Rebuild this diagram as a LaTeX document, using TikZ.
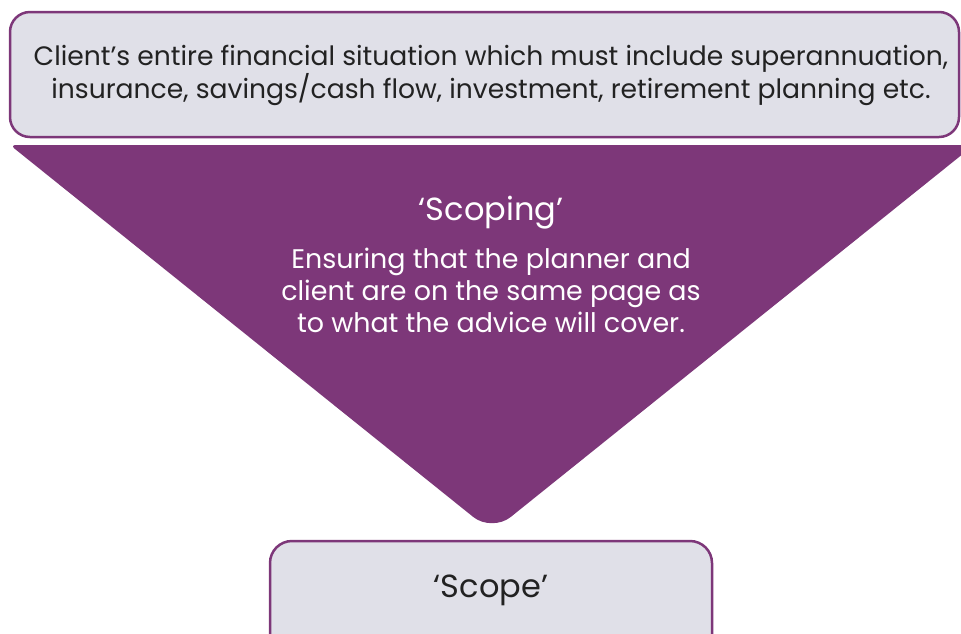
\documentclass[tikz,border=0pt]{standalone}
\usepackage{fontspec}
\setmainfont{Poppins}
\definecolor{plum}{HTML}{7D3779}
\definecolor{mist}{HTML}{E0E0E8}
\definecolor{ink}{HTML}{222222}
\tikzset{
  infobox/.style={draw=plum,line width=2.5pt,fill=mist,rounded corners=20pt},
  boxtext/.style={text=ink,align=center,font=\fontsize{26.6}{33}\selectfont}
}
\begin{document}
\begin{tikzpicture}[x=1pt,y=-1pt]
\useasboundingbox (0,0) rectangle (961,633);
\draw[infobox](10,12) rectangle (959,137);
\node[boxtext](situation) at (491,75) {Client’s entire financial situation which must include superannuation,\\insurance, savings/cash flow, investment, retirement planning etc.};
\fill[plum](492,145)[rounded corners=6pt]--(10,145)--(251,338.5)[rounded corners=24pt]--(492,532)--(733,338.5)[rounded corners=6pt]--(974,145)--cycle;
\node[text=white,font=\fontsize{32}{38}\selectfont](scoping) at (491,213) {‘Scoping’};
\node[text=white,align=center,font=\fontsize{26.9}{32}\selectfont](purpose) at (491,290) {Ensuring that the planner and\\client are on the same page as\\to what the advice will cover.};
\draw[infobox,rounded corners=22pt](270,541) rectangle (712,660);
\node[boxtext,font=\fontsize{32}{38}\selectfont](scope) at (491,590) {‘Scope’};
\end{tikzpicture}
\end{document}
